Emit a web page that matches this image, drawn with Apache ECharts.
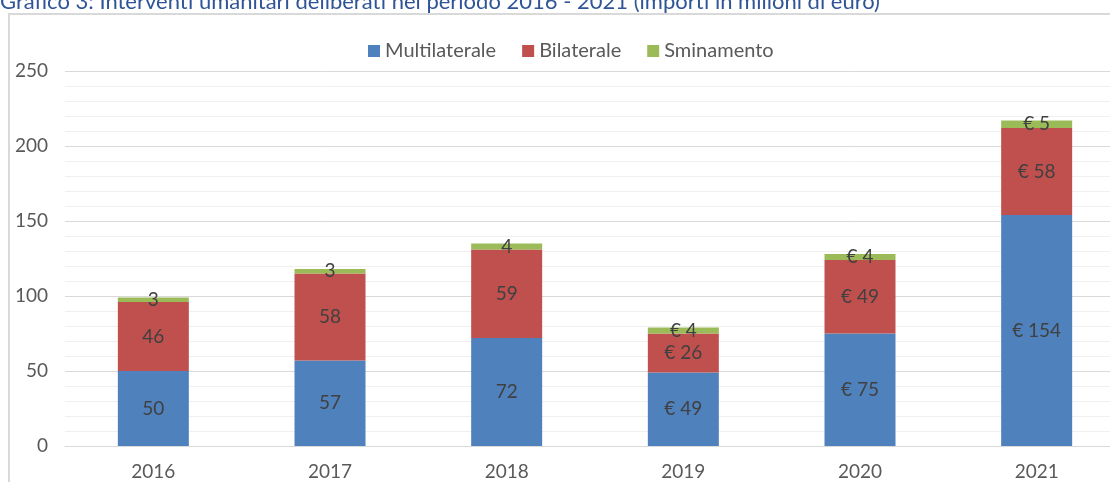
<!DOCTYPE html>
<html>
  <head>
    <meta charset="utf-8" />
    <script src="https://cdn.jsdelivr.net/npm/echarts@6/dist/echarts.min.js"></script>
    <style>
      html, body { margin: 0; padding: 0; background: #fff; }
    </style>
  </head>
  <body>
    <div id="main" style="width: 1110px;height:482px;"></div>
    <script type="text/javascript">
      var myChart = echarts.init(document.getElementById('main'));

      // data (milioni di euro)
      const years = ['2016', '2017', '2018', '2019', '2020', '2021'];
      const multilaterale = [50, 57, 72, 49, 75, 154];
      const bilaterale = [46, 58, 59, 26, 49, 58];
      const sminamento = [3, 3, 4, 4, 4, 5];
      // from 2019 on the labels carry the euro sign
      const euroFrom = 3;

      const fontFam = 'Lato, "Open Sans", sans-serif';
      const labelColor = '#404040';

      function fmt(p) {
        return (p.dataIndex >= euroFrom ? '€ ' : '') + p.value;
      }

      function stackSerie(name, data, color) {
        return {
          name: name,
          type: 'bar',
          stack: 'tot',
          barWidth: 71,
          data: data,
          itemStyle: { color: color },
          label: {
            show: true,
            position: 'inside',
            formatter: fmt,
            color: labelColor,
            fontFamily: fontFam,
            fontSize: 19
          }
        };
      }

      option = {
        animation: false,
        backgroundColor: '#fff',
        graphic: [
          { type: 'rect',
            shape: { x: 9, y: 14, width: 1200, height: 600 },
            style: { fill: 'none', stroke: '#d9d9d9', lineWidth: 2 }
          },
          { type: 'text',
            left: 0,
            top: -9,
            style: {
              text: 'Grafico 3: Interventi umanitari deliberati nel periodo 2016 - 2021 (importi in milioni di euro)',
              fill: '#2f5597',
              font: '22px ' + fontFam
            }
          }
        ],
        legend: {
          top: 36,
          left: 363,
          itemWidth: 12,
          itemHeight: 12,
          itemGap: 26,
          icon: 'rect',
          textStyle: { color: '#595959', fontFamily: fontFam, fontSize: 20 },
          data: ['Multilaterale', 'Bilaterale', 'Sminamento']
        },
        grid: {
          left: 65,
          width: 1060,
          top: 71,
          bottom: 36,
          outerBoundsMode: 'none'
        },
        xAxis: {
          type: 'category',
          data: years,
          axisTick: { show: false },
          axisLine: { lineStyle: { color: '#d9d9d9', width: 1 } },
          axisLabel: { color: '#595959', fontFamily: fontFam, fontSize: 19, margin: 16 }
        },
        yAxis: {
          type: 'value',
          min: 0,
          max: 250,
          interval: 50,
          axisLine: { show: false },
          axisTick: { show: false },
          axisLabel: { color: '#595959', fontFamily: fontFam, fontSize: 19, margin: 17 },
          splitLine: { lineStyle: { color: '#d9d9d9', width: 1 } },
          minorTick: { show: false, splitNumber: 5 },
          minorSplitLine: { show: true, lineStyle: { color: '#f0f0f0', width: 1 } }
        },
        series: [
          stackSerie('Multilaterale', multilaterale, '#4f81bd'),
          stackSerie('Bilaterale', bilaterale, '#c0504d'),
          stackSerie('Sminamento', sminamento, '#9bbb59')
        ]
      };

      myChart.setOption(option);
    </script>
  </body>
</html>
